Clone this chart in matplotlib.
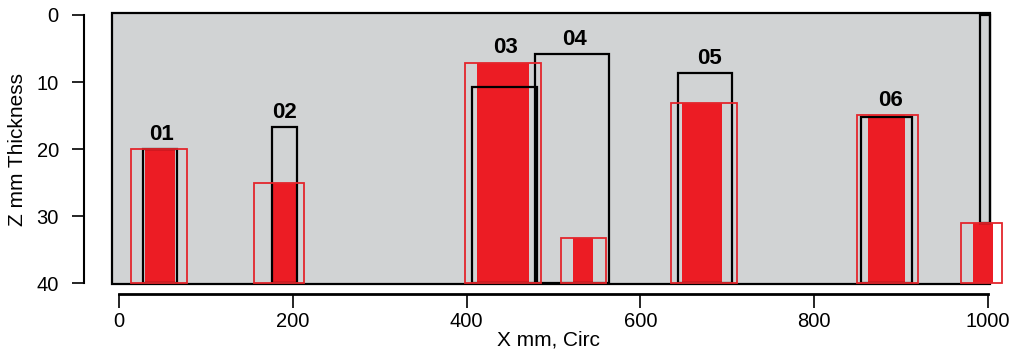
import matplotlib.pyplot as plt
from matplotlib.patches import Rectangle

# sample ids and where their labels sit along X
labels = ["01", "02", "03", "04", "05", "06"]
label_x = [49, 191, 445, 524, 679, 888]

# black outline boxes: x start, x end, top Z, bottom Z
black_x0 = [28, 176, 405.9, 478.7, 643, 853.5, 990.8]
black_x1 = [66.4, 204.8, 480.7, 563.9, 705, 912, 1002.3]
black_top = [20, 16.7, 10.7, 5.8, 8.7, 15.2, 0]
black_bot = [40, 40, 40, 40, 40, 40, 31]

# red outline boxes: x start, x end, top Z (bottom at 40)
red_x0 = [13.8, 155.3, 398, 508.3, 635, 849, 968.5]
red_x1 = [78.2, 212.9, 485.6, 560, 711, 920, 1016.4]
red_top = [20, 25, 7.1, 33.2, 13.1, 14.9, 31]

# solid red fill inside each red box
fill_x0 = [29.5, 177.5, 411.6, 522.4, 648, 862, 982.6]
fill_x1 = [65, 203.5, 471.8, 545.5, 694, 905, 1005.6]

Z_MAX = 40
RED = "#ec1c24"
RED_EDGE = "#e3262c"
GRAY = "#d1d3d4"

plt.rcParams["font.family"] = ["Liberation Sans", "DejaVu Sans"]

fig = plt.figure(figsize=(10.1, 3.54), dpi=100)
ax = fig.add_axes([0.0791, 0.152, 0.9163, 0.8246])
ax.set_xlim(-45, 1020)
ax.set_ylim(42.5, -1)

# gray sample area
ax.add_patch(Rectangle((-8.4, -0.3), 1002.3 + 8.4, 40.4, facecolor=GRAY,
                       edgecolor="black", linewidth=1.6, zorder=1))

def widths(x0, x1):
    return [b - a for a, b in zip(x0, x1)]

red_h = [Z_MAX - t for t in red_top]
ax.bar(fill_x0, red_h, width=widths(fill_x0, fill_x1), bottom=red_top,
       align="edge", color=RED, linewidth=0, zorder=2)
ax.bar(black_x0, [b - t for t, b in zip(black_top, black_bot)],
       width=widths(black_x0, black_x1), bottom=black_top, align="edge",
       fill=False, edgecolor="black", linewidth=1.6, zorder=3)
ax.bar(red_x0, red_h, width=widths(red_x0, red_x1), bottom=red_top,
       align="edge", fill=False, edgecolor=RED_EDGE, linewidth=1.3, zorder=4,
       clip_on=False)

for i, lab in enumerate(labels):
    z = min(black_top[i], red_top[i]) - 1.4
    ax.text(label_x[i], z, lab, ha="center", va="baseline",
            fontsize=16, fontweight="bold", zorder=5)

# detached R-style axes
for side in ["top", "right"]:
    ax.spines[side].set_visible(False)
ax.spines["left"].set_position(("data", -40.3))
ax.spines["left"].set_bounds(0, 40)
ax.spines["left"].set_linewidth(1.5)
ax.spines["bottom"].set_position(("data", 41.6))
ax.spines["bottom"].set_bounds(0, 1000)
ax.spines["bottom"].set_linewidth(2.0)

ax.set_xticks([0, 200, 400, 600, 800, 1000])
ax.set_yticks([0, 10, 20, 30, 40])
ax.tick_params(axis="y", length=8.6, width=1.2, pad=9.5, labelsize=14.5)
ax.tick_params(axis="x", length=10, width=1.2, pad=3.2, labelsize=14.5)

fig.text(18 / 1010, 1 - 150 / 354, "Z mm Thickness", rotation=90,
         ha="center", va="center", fontsize=15)
fig.text(548 / 1010, 1 - 340 / 354, "X mm, Circ", ha="center", va="center",
         fontsize=15)

fig.savefig("out.png", dpi=100)
